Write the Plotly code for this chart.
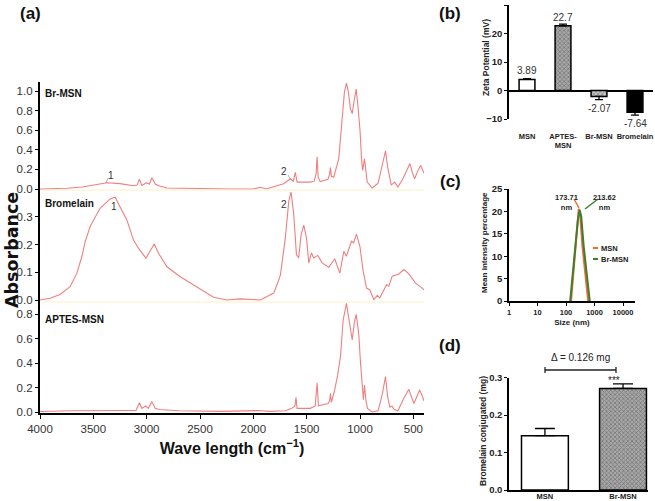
import plotly.graph_objects as go

W, H = 655, 501
def PX(px): return px / W
def PY(py): return 1 - py / H

# ---------------- data: FTIR spectra (a) ----------------
brmsn_wn = [4000, 3750, 3600, 3374, 3250, 3124, 3090, 3068, 3045, 3000, 2975, 2951, 2920, 2880, 2810, 2600,
            2200, 2000, 1934, 1880, 1716, 1653, 1625, 1606, 1590, 1540, 1465, 1430, 1412, 1402, 1392, 1374,
            1300, 1285, 1277, 1268, 1246, 1199, 1167, 1146, 1127, 1110, 1090, 1073, 1055, 1036, 1022, 1012,
            1000, 985, 975, 958, 945, 932, 886, 830, 790, 761, 740, 707, 676, 645, 600, 560, 532, 510, 488,
            460, 432, 415, 400]
brmsn_ab = [0.0, 0.007, 0.02, 0.064, 0.055, 0.034, 0.04, 0.10, 0.036, 0.064, 0.048, 0.115, 0.05, 0.03, 0.01, 0.005,
            0.0, 0.0, 0.017, 0.0, 0.054, 0.105, 0.08, 0.17, 0.07, 0.07, 0.07, 0.08, 0.15, 0.33, 0.12, 0.075,
            0.10, 0.15, 0.22, 0.13, 0.12, 0.31, 0.68, 0.99, 1.08, 1.0, 0.82, 0.77, 0.9, 1.02, 0.88, 0.76,
            0.6, 0.3, 0.19, 0.31, 0.18, 0.07, 0.01, 0.06, 0.25, 0.39, 0.22, 0.04, 0.07, 0.02, 0.1, 0.2, 0.26, 0.17, 0.105,
            0.18, 0.24, 0.2, 0.16]

brom_wn = [4000, 3906, 3812, 3718, 3655, 3608, 3577, 3530, 3437, 3343, 3296, 3249, 3186, 3124, 3077, 3007,
           2967, 2929, 2889, 2857, 2810, 2685, 2529, 2373, 2247, 2122, 1934, 1840, 1809, 1762, 1746, 1700,
           1668, 1646, 1621, 1596, 1575, 1552, 1527, 1502, 1480, 1455, 1434, 1396, 1355, 1293, 1237, 1189,
           1152, 1127, 1080, 1060, 1033, 1001, 970, 939, 908, 870, 838, 814, 751, 730, 698, 636, 589, 542,
           479, 416, 400]
brom_ab = [0.0, 0.006, 0.02, 0.048, 0.096, 0.156, 0.21, 0.265, 0.331, 0.365, 0.371, 0.337, 0.289, 0.217, 0.187, 0.151,
           0.18, 0.202, 0.169, 0.151, 0.12, 0.084, 0.048, 0.01, 0.0, 0.004, 0.0, 0.018, 0.025, 0.072, 0.091, 0.224,
           0.356, 0.39, 0.308, 0.164, 0.152, 0.236, 0.27, 0.224, 0.134, 0.17, 0.152, 0.161, 0.134, 0.118, 0.149, 0.097,
           0.176, 0.158, 0.212, 0.206, 0.238, 0.194, 0.104, 0.043, 0.037, 0.001, 0.017, 0.008, 0.055, 0.05, 0.086, 0.094, 0.11, 0.094,
           0.061, 0.043, 0.037]

aptes_wn = [4000, 3700, 3200, 3100, 3068, 3045, 3010, 2985, 2951, 2920, 2880, 2700, 2300, 1950, 1850, 1700,
            1640, 1610, 1600, 1590, 1465, 1420, 1402, 1390, 1300, 1285, 1277, 1268, 1240, 1210, 1183, 1158,
            1127, 1100, 1073, 1055, 1036, 1020, 1010, 995, 980, 968, 958, 945, 930, 886, 830, 790, 761, 740,
            720, 700, 680, 645, 590, 542, 495, 460, 441, 420, 400]
aptes_ab = [0.004, 0.01, 0.012, 0.012, 0.076, 0.03, 0.05, 0.03, 0.085, 0.03, 0.02, 0.01, 0.005, 0.012, 0.005, 0.01,
            0.03, 0.05, 0.12, 0.03, 0.03, 0.05, 0.24, 0.05, 0.07, 0.09, 0.153, 0.08, 0.17, 0.3, 0.453, 0.754,
            0.89, 0.75, 0.59, 0.72, 0.8, 0.7, 0.62, 0.4, 0.207, 0.1, 0.22, 0.1, 0.03, 0.0, 0.01, 0.15, 0.29, 0.12,
            0.04, 0.05, 0.02, 0.01, 0.11, 0.186, 0.07, 0.14, 0.18, 0.14, 0.09]

wn_ticks = [4000, 3500, 3000, 2500, 2000, 1500, 1000, 500]

# ---------------- data: zeta potential (b) ----------------
zeta_cats = ["MSN", "APTES-<br>MSN", "Br-MSN", "Bromelain"]
zeta_vals = [3.89, 22.7, -2.07, -7.64]
zeta_err = [0.3, 0.6, 1.1, 1.0]
zeta_labels = ["3.89", "22.7", "-2.07", "-7.64"]

# ---------------- data: DLS (c) ----------------
msn_size = [150, 200, 250, 280, 310, 380, 600]
msn_int = [0, 10, 17.5, 20.6, 19.6, 12, 0]
brmsn_size = [140, 200, 260, 300, 340, 420, 680]
brmsn_int = [0, 10.5, 18, 20.3, 19, 12, 0]
size_ticks = [1, 10, 100, 1000, 10000]

# ---------------- data: conjugation (d) ----------------
conj_cats = ["MSN", "Br-MSN"]
conj_vals = [0.145, 0.271]
conj_err = [0.019, 0.012]

FONT = "Liberation Sans, Arial, sans-serif"
RED = "#f07f7f"
fig = go.Figure()

# spectra
for wn, ab, ya in [(brmsn_wn, brmsn_ab, "y"), (brom_wn, brom_ab, "y2"), (aptes_wn, aptes_ab, "y3")]:
    fig.add_trace(go.Scatter(x=wn, y=ab, xaxis="x", yaxis=ya, mode="lines",
                             line=dict(color=RED, width=1.1), showlegend=False, hoverinfo="skip"))

# zeta bars
fig.add_trace(go.Bar(x=list(range(4)), y=zeta_vals, xaxis="x4", yaxis="y4", width=0.44,
                     marker=dict(color=["white", "#a8a8a8", "#c8c8c8", "black"],
                                 pattern=dict(shape=["", "x", "x", ""], fgcolor="#4a4a4a", size=3, solidity=0.45),
                                 line=dict(color="black", width=1.5)),
                     error_y=dict(type="data", symmetric=False,
                                  array=[e if v > 0 else 0 for v, e in zip(zeta_vals, zeta_err)],
                                  arrayminus=[e if v < 0 else 0 for v, e in zip(zeta_vals, zeta_err)],
                                  color="black", thickness=1.3, width=4),
                     showlegend=False, hoverinfo="skip"))

# DLS
fig.add_trace(go.Scatter(x=msn_size, y=msn_int, xaxis="x5", yaxis="y5", mode="lines",
                         line=dict(color="#ef6b35", width=2), showlegend=False))
fig.add_trace(go.Scatter(x=brmsn_size, y=brmsn_int, xaxis="x5", yaxis="y5", mode="lines",
                         line=dict(color="#3f7d2f", width=2), showlegend=False))

# conjugation bars
fig.add_trace(go.Bar(x=[0, 1], y=conj_vals, xaxis="x6", yaxis="y6", width=0.6,
                     marker=dict(color=["white", "#a8a8a8"],
                                 pattern=dict(shape=["", "x"], fgcolor="#4a4a4a", size=3, solidity=0.45),
                                 line=dict(color="black", width=1.5)),
                     error_y=dict(type="data", symmetric=False, array=conj_err, arrayminus=[0, 0],
                                  color="black", thickness=1.3, width=10),
                     showlegend=False, hoverinfo="skip"))

axdef = dict(showgrid=False, zeroline=False, showline=True, linecolor="black", ticks="outside",
             tickcolor="black", automargin=False)
tickf_a = dict(family=FONT, size=11.5, color="#333")
tickf_b = dict(family=FONT, size=9.5, color="#222", weight="bold")

layout = dict(
    width=W, height=H, margin=dict(l=0, r=0, t=0, b=0, pad=0, autoexpand=False),
    paper_bgcolor="white", plot_bgcolor="rgba(0,0,0,0)", font=dict(family=FONT),
    xaxis=dict(axdef, domain=[PX(40), PX(424)], range=[4000, 400], anchor="y3", tickvals=wn_ticks,
               linewidth=2.2, ticklen=4, tickfont=tickf_a,
               title=dict(text="<b>Wave length (cm<sup>−1</sup>)</b>", font=dict(size=16, color="#111"), standoff=9)),
    yaxis=dict(axdef, domain=[PY(190), PY(82)], range=[-0.0102, 1.092], anchor="x",
               tickvals=[0, 0.2, 0.4, 0.6, 0.8, 1.0], tickformat=".1f", linewidth=2.2, ticklen=3, tickfont=tickf_a),
    yaxis2=dict(axdef, domain=[PY(302), PY(190)], range=[-0.0072, 0.397], anchor="x",
                tickvals=[0, 0.1, 0.2, 0.3], tickformat=".1f", linewidth=2.2, ticklen=3, tickfont=tickf_a),
    yaxis3=dict(axdef, domain=[PY(413), PY(302)], range=[-0.0082, 0.9016], anchor="x",
                tickvals=[0, 0.2, 0.4, 0.6, 0.8], tickformat=".1f", linewidth=2.2, ticklen=3, tickfont=tickf_a),
    xaxis4=dict(showgrid=False, zeroline=False, showline=False, domain=[PX(509), PX(653)], range=[-0.5, 3.5],
                anchor="y4", tickvals=list(range(4)), ticktext=["<b>%s</b>" % c for c in zeta_cats],
                tickfont=dict(family=FONT, size=7.5, color="#222"), ticks="", ticklabelstandoff=11,
                automargin=False),
    yaxis4=dict(axdef, domain=[PY(119), PY(5)], range=[-10, 30], anchor="x4", tickvals=[-10, 0, 10, 20, 30],
                linewidth=1.5, ticklen=3, tickfont=tickf_b, zeroline=True, zerolinecolor="black", zerolinewidth=1.5),
    xaxis5=dict(axdef, type="log", domain=[PX(509), PX(635)], range=[0, 4.42], anchor="y5",
                tickvals=size_ticks, ticktext=[str(v) for v in size_ticks], linewidth=1.5, ticklen=3,
                tickfont=dict(family=FONT, size=7.5, color="#222", weight="bold"),
                title=dict(text="<b>Size (nm)</b>", font=dict(size=8, color="#222"), standoff=4)),
    yaxis5=dict(axdef, domain=[PY(301), PY(189)], range=[0, 25], anchor="x5", tickvals=[0, 5, 10, 15, 20, 25],
                linewidth=1.5, ticklen=3, tickfont=tickf_b),
    xaxis6=dict(axdef, domain=[PX(509), PX(648)], range=[-0.46, 1.32], anchor="y6", tickvals=[0, 1],
                ticktext=["<b>%s</b>" % c for c in conj_cats], ticks="", linewidth=1.5, ticklabelstandoff=-2,
                tickfont=dict(family=FONT, size=7.5, color="#222")),
    yaxis6=dict(axdef, domain=[PY(490), PY(377.5)], range=[0, 0.3], anchor="x6", tickvals=[0, 0.1, 0.2, 0.3],
                tickformat=".1f", linewidth=1.5, ticklen=3, tickfont=tickf_b),
)
fig.update_layout(**layout)

ann = []
def A(text, x, y, size, bold=False, color="#111", xanchor="center", family=FONT, **kw):
    t = "<b>%s</b>" % text if bold else text
    ann.append(dict(text=t, x=PX(x), y=PY(y), xref="paper", yref="paper", showarrow=False,
                    font=dict(family=family, size=size, color=color), xanchor=xanchor, yanchor="middle", **kw))

# panel labels
for lab, x, y in [("(a)", 30, 14), ("(b)", 450, 13), ("(c)", 450, 181), ("(d)", 450, 345)]:
    A(lab, x, y, 17, bold=True)
A("Absorbance", 12, 250, 17.5, bold=True, textangle=-90, borderpad=0,
  family="DejaVu Sans, Liberation Sans, sans-serif")
A("Br-MSN", 43, 94, 10, bold=True, xanchor="left")
A("Bromelain", 43, 203, 10, bold=True, xanchor="left")
A("APTES-MSN", 43, 319, 10, bold=True, xanchor="left")
A("1", 111, 175, 10, color="#333")
A("1", 114, 206, 10, color="#333")
A("2", 284, 172, 10, color="#333")
A("2", 284, 204, 10, color="#333")

# y-axis titles of small panels
A("Zeta Potential (mV)", 486, 58, 8.5, bold=True, color="#222", textangle=-90)
A("Mean intensity percentage", 485, 243, 8, bold=True, color="#222", textangle=-90)
A("Bromelain conjugated (mg)", 483, 431, 8.5, bold=True, color="#222", textangle=-90)

# zeta value labels
for i, (v, t) in enumerate(zip(zeta_vals, zeta_labels)):
    e = zeta_err[i]
    ann.append(dict(text=t, x=i, y=(v if v > 0 else v - e), xref="x4", yref="y4", showarrow=False,
                    font=dict(family=FONT, size=10, color="#333"),
                    yanchor="bottom" if v > 0 else "top", yshift=1 if v > 0 else -1))

# DLS labels + legend
A("173.71<br>nm", 566, 202, 7.5, bold=True, color="#222")
A("213.62<br>nm", 604, 202, 7.5, bold=True, color="#222")
A("MSN", 599, 248, 7.5, bold=True, color="#222", xanchor="left")
A("Br-MSN", 599, 259, 7.5, bold=True, color="#222", xanchor="left")

# conjugation labels
A("Δ = 0.126 mg", 580, 357, 10, color="#222")
A("***", 614, 380, 10, color="#222")

fig.update_layout(annotations=ann)

shapes = []
def L(x0, y0, x1, y1, color, width):
    shapes.append(dict(type="line", xref="paper", yref="paper", x0=PX(x0), y0=PY(y0), x1=PX(x1), y1=PY(y1),
                       line=dict(color=color, width=width)))
L(42, 190, 424, 190, "#fbf0c4", 1)
L(42, 302, 424, 302, "#fbf0c4", 1)
L(106, 183, 108, 178, "#999", 0.8)
L(288, 175, 291, 180, "#999", 0.8)
L(574, 199, 579, 208, "#ef6b35", 1.5)
L(598, 199, 585, 209, "#3f7d2f", 1.5)
L(593, 248, 598, 248, "#ef6b35", 2)
L(593, 259, 598, 259, "#3f7d2f", 2)
L(545, 370, 616, 370, "#222", 1.3)
L(545, 367, 545, 373, "#222", 1.3)
L(616, 367, 616, 373, "#222", 1.3)
fig.update_layout(shapes=shapes)

fig.write_html("out.html", config={"displayModeBar": False},
               post_script="document.body.style.margin='0';document.body.style.padding='0';"
                           "document.body.style.overflow='hidden';")
